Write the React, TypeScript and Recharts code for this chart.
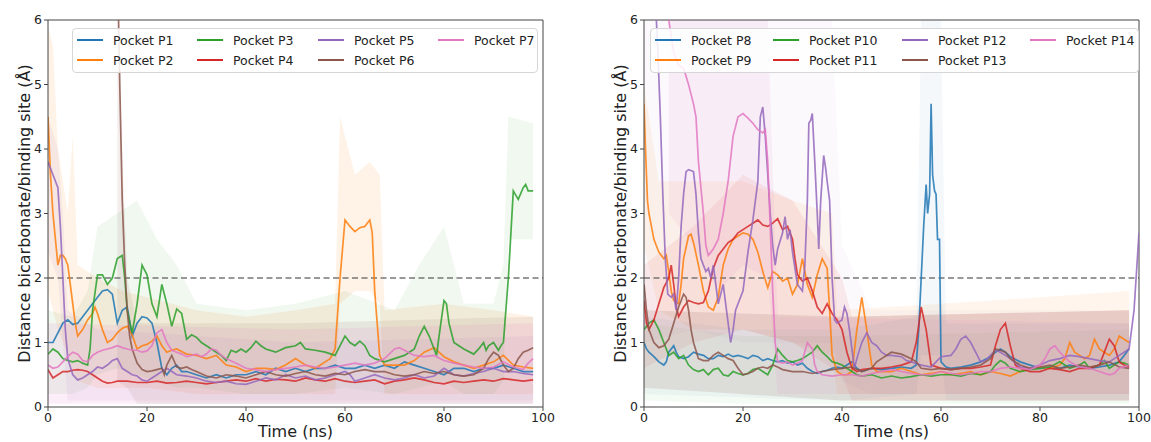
import React from "react";
import { ComposedChart, Line, Area, XAxis, YAxis, ReferenceLine, Legend } from "recharts";

// smoothed traces, [time ns, distance Å]
const P1 = [[0,1.0],[1,1.0],[2,1.15],[3,1.3],[4,1.35],[5,1.28],[6,1.3],[7,1.4],[8,1.5],[9,1.6],[10,1.7],[11,1.8],[12,1.82],[13,1.75],[14,1.3],[15,1.5],[16,1.55],[17,1.1],[18,1.3],[19,1.4],[20,1.38],[21,1.3],[22,1.0],[23,0.6],[24,0.5],[25,0.6],[26,0.65],[27,0.55],[28,0.55],[30,0.5],[32,0.45],[34,0.5],[36,0.45],[38,0.5],[40,0.5],[42,0.55],[44,0.5],[46,0.6],[48,0.55],[50,0.6],[52,0.55],[54,0.6],[56,0.6],[58,0.65],[60,0.6],[62,0.6],[64,0.65],[66,0.6],[68,0.65],[70,0.6],[72,0.7],[74,0.65],[76,0.6],[78,0.55],[80,0.5],[82,0.6],[84,0.6],[86,0.55],[88,0.6],[90,0.6],[92,0.65],[94,0.6],[96,0.55],[98,0.55]];
const P2 = [[0,4.5],[0.5,3.6],[1,3.0],[1.5,2.6],[2,2.2],[2.5,2.35],[3,2.35],[3.5,2.3],[4,2.2],[4.5,1.9],[5,1.6],[5.5,1.3],[6,1.1],[7,1.2],[8,1.35],[9,1.45],[9.5,1.55],[10,1.45],[11,1.2],[12,1.0],[13,1.05],[14,1.15],[15,1.22],[16,1.25],[17,1.12],[18,0.9],[19,0.95],[20,0.97],[21,1.02],[22,1.1],[23,0.95],[24,0.85],[25,0.88],[26,0.9],[28,0.82],[30,0.8],[32,0.75],[34,0.8],[36,0.65],[38,0.62],[40,0.55],[42,0.6],[44,0.6],[46,0.58],[48,0.65],[50,0.75],[52,0.65],[54,0.6],[56,0.7],[57,0.75],[58,0.9],[59,2.0],[60,2.9],[61,2.8],[62,2.72],[63,2.78],[64,2.8],[65,2.9],[65.5,2.7],[66,1.8],[67,0.8],[68,0.65],[70,0.65],[72,0.65],[74,0.72],[76,0.85],[78,0.92],[80,0.78],[82,0.7],[84,0.65],[86,0.6],[88,0.65],[90,0.7],[92,0.8],[94,0.65],[96,0.62],[98,0.6]];
const P3 = [[0,0.82],[1,0.9],[2,0.85],[3,0.75],[4,0.72],[5,0.7],[6,0.72],[7,0.68],[8,0.65],[8.5,0.9],[9,1.5],[10,2.05],[11,2.05],[12,1.9],[13,2.0],[14,2.3],[15,2.35],[15.5,2.0],[16,1.5],[17,1.15],[18,1.6],[19,2.2],[20,2.05],[21,1.6],[22,1.4],[23,1.9],[24,1.6],[25,1.25],[26,1.52],[27,1.45],[28,1.05],[29,1.12],[30,1.08],[31,1.0],[32,0.95],[33,0.9],[34,0.85],[35,0.8],[36,0.72],[37,0.88],[38,0.85],[39,0.9],[40,0.85],[41,0.92],[42,1.02],[43,0.95],[44,0.9],[46,0.85],[48,0.92],[50,0.95],[51,1.0],[52,0.9],[54,0.88],[56,0.85],[58,0.8],[59,0.95],[60,1.1],[61,1.0],[62,0.95],[63,1.02],[64,0.95],[65,0.8],[66,0.75],[68,0.7],[70,0.75],[72,0.8],[73,0.85],[74,0.9],[75,1.1],[76,1.25],[77,1.1],[78,0.9],[78.5,0.8],[79,1.1],[80,1.65],[80.5,1.6],[81,1.3],[82,1.0],[83,0.95],[84,0.9],[86,0.82],[87,0.9],[88,1.0],[88.5,0.88],[89,0.95],[90,1.0],[91,0.88],[91.5,0.95],[92,1.0],[93,2.0],[94,3.35],[95,3.22],[96,3.4],[96.5,3.45],[97,3.35],[98,3.35]];
const P4 = [[0,0.58],[1,0.45],[2,0.5],[3,0.55],[4,0.55],[5,0.57],[6,0.58],[7,0.57],[8,0.55],[9,0.5],[10,0.45],[11,0.4],[12,0.37],[13,0.38],[14,0.4],[16,0.4],[18,0.38],[20,0.38],[22,0.4],[24,0.37],[26,0.38],[28,0.4],[30,0.38],[32,0.36],[34,0.38],[36,0.4],[38,0.42],[40,0.4],[42,0.44],[44,0.4],[46,0.43],[48,0.42],[50,0.4],[52,0.45],[54,0.42],[56,0.4],[58,0.44],[60,0.4],[62,0.38],[64,0.4],[66,0.42],[68,0.36],[70,0.4],[72,0.42],[74,0.45],[76,0.42],[78,0.38],[80,0.36],[82,0.4],[84,0.38],[86,0.4],[88,0.42],[90,0.4],[92,0.44],[94,0.42],[96,0.4],[98,0.42]];
const P5 = [[0,3.8],[1,3.6],[2,3.4],[2.5,2.8],[3,2.0],[3.5,1.2],[4,0.75],[5,0.5],[6,0.42],[7,0.45],[8,0.5],[9,0.55],[10,0.62],[11,0.6],[12,0.65],[13,0.72],[14,0.75],[15,0.6],[16,0.55],[17,0.5],[18,0.48],[19,0.42],[20,0.4],[21,0.45],[22,0.5],[23,0.55],[24,0.6],[25,0.55],[26,0.5],[28,0.48],[30,0.45],[32,0.4],[34,0.38],[36,0.4],[38,0.36],[40,0.35],[42,0.4],[44,0.45],[46,0.42],[48,0.5],[50,0.45],[52,0.48],[54,0.42],[56,0.45],[58,0.5],[60,0.55],[61,0.5],[62,0.4],[64,0.45],[66,0.5],[68,0.45],[70,0.42],[72,0.45],[74,0.5],[76,0.45],[78,0.48],[80,0.6],[82,0.5],[84,0.48],[86,0.52],[88,0.55],[90,0.6],[92,0.55],[94,0.55],[96,0.52],[98,0.5]];
const P6 = [[14,7],[14.5,5],[15,3.2],[15.5,2.2],[16,1.5],[16.5,1.1],[17,0.9],[18,0.68],[19,0.58],[20,0.55],[21,0.56],[22,0.58],[23,0.6],[23.5,0.5],[24,0.65],[25,0.8],[26,0.62],[27,0.6],[28,0.62],[29,0.58],[30,0.55],[32,0.48],[34,0.45],[36,0.5],[38,0.48],[40,0.45],[42,0.5],[44,0.55],[46,0.5],[48,0.48],[50,0.52],[52,0.55],[54,0.5],[56,0.48],[58,0.52],[60,0.5],[62,0.55],[64,0.58],[66,0.55],[68,0.55],[70,0.5],[72,0.48],[74,0.5],[76,0.55],[78,0.52],[80,0.55],[82,0.5],[84,0.48],[86,0.5],[88,0.6],[89,0.75],[90,0.85],[91,0.8],[92,0.65],[93,0.55],[94,0.6],[95,0.75],[96,0.85],[97,0.88],[98,0.92]];
const P7 = [[0,0.65],[1,0.6],[2,0.62],[3,0.7],[4,0.78],[5,0.85],[6,0.82],[7,0.72],[8,0.7],[9,0.8],[10,0.85],[11,0.88],[12,0.9],[13,0.92],[14,0.95],[15,0.92],[16,0.9],[17,0.88],[18,0.88],[19,0.85],[20,0.87],[21,0.95],[22,1.15],[23,1.2],[24,1.0],[25,0.88],[26,0.85],[27,0.82],[28,0.78],[29,0.8],[30,0.82],[31,0.78],[32,0.82],[33,0.9],[34,0.88],[35,0.8],[36,0.75],[38,0.68],[40,0.6],[42,0.58],[44,0.55],[46,0.58],[48,0.6],[50,0.62],[52,0.65],[54,0.62],[56,0.6],[58,0.62],[60,0.65],[62,0.68],[64,0.65],[66,0.68],[68,0.75],[70,0.9],[71,0.92],[72,0.88],[74,0.8],[76,0.78],[78,0.8],[80,0.72],[82,0.68],[84,0.65],[86,0.62],[88,0.6],[90,0.62],[92,0.7],[94,0.62],[96,0.58],[97,0.68],[98,0.75]];

const P8 = [[0,1.0],[0.5,0.9],[1,0.85],[2,0.78],[3,0.7],[4,0.65],[4.5,0.7],[5,0.85],[6,0.95],[6.5,0.85],[7,0.78],[8,0.75],[9,0.78],[10,0.85],[11,0.82],[12,0.8],[13,0.75],[14,0.75],[15,0.8],[16,0.78],[17,0.82],[18,0.78],[19,0.8],[20,0.78],[21,0.75],[22,0.8],[23,0.78],[24,0.72],[25,0.75],[26,0.72],[27,0.7],[28,0.72],[29,0.68],[30,0.7],[31,0.65],[32,0.68],[33,0.6],[34,0.55],[35,0.52],[36,0.55],[37,0.57],[38,0.6],[39,0.62],[40,0.6],[41,0.65],[42,0.7],[43,0.6],[44,0.55],[46,0.6],[48,0.58],[50,0.6],[52,0.62],[54,0.6],[55,0.65],[55.5,1.2],[56,2.0],[56.5,2.8],[57,3.45],[57.3,3.0],[57.7,3.3],[58,4.7],[58.3,3.6],[58.7,3.35],[59,3.3],[59.3,2.6],[59.7,2.6],[60,0.7],[61,0.62],[62,0.6],[64,0.62],[66,0.65],[68,0.7],[70,0.78],[71,0.85],[72,0.9],[73,0.85],[74,0.78],[76,0.7],[78,0.65],[80,0.6],[82,0.62],[84,0.6],[86,0.65],[88,0.62],[90,0.6],[92,0.62],[94,0.65],[96,0.7],[97,0.8],[98,0.9]];
const P9 = [[0,4.7],[0.3,4.0],[0.7,3.2],[1,3.0],[1.5,2.8],[2,2.6],[3,2.4],[4,2.3],[4.5,2.35],[5,2.1],[5.5,1.8],[6,1.65],[7,1.6],[7.5,1.9],[8,2.3],[9,2.65],[9.5,2.68],[10,2.55],[11,2.2],[12,1.8],[13,1.55],[14,1.5],[15,1.7],[16,2.2],[17,2.45],[18,2.6],[19,2.65],[20,2.7],[21,2.68],[22,2.6],[23,2.4],[24,2.1],[25,1.85],[26,2.1],[27,2.05],[28,1.95],[29,2.0],[30,1.75],[31,1.9],[32,2.3],[33,1.9],[34,1.7],[35,2.05],[36,2.3],[37,2.15],[37.5,1.5],[38,0.8],[39,0.55],[40,0.5],[41,0.5],[42,0.55],[43,1.2],[44,1.7],[45,1.2],[46,0.65],[47,0.55],[48,0.55],[50,0.55],[52,0.6],[54,0.55],[56,0.5],[58,0.52],[60,0.55],[62,0.5],[64,0.52],[66,0.55],[68,0.5],[70,0.55],[72,0.52],[74,0.48],[76,0.55],[78,0.6],[80,0.62],[82,0.6],[84,0.65],[85,0.75],[86,1.0],[87,0.85],[88,0.8],[89,0.75],[90,0.8],[91,1.05],[92,0.9],[93,0.85],[94,0.8],[95,0.9],[96,1.1],[97,1.05],[98,1.0]];
const P10 = [[0,1.2],[1,1.3],[2,1.35],[3,1.2],[4,1.0],[5,0.8],[6,0.85],[7,0.75],[8,0.8],[9,0.65],[10,0.58],[11,0.55],[12,0.58],[13,0.5],[14,0.58],[15,0.6],[16,0.5],[17,0.48],[18,0.55],[19,0.52],[20,0.5],[21,0.52],[22,0.58],[23,0.6],[24,0.55],[25,0.5],[26,0.65],[27,0.9],[28,0.8],[29,0.72],[30,0.7],[31,0.72],[32,0.75],[33,0.8],[34,0.85],[35,0.95],[36,0.85],[37,0.78],[38,0.7],[39,0.68],[40,0.65],[41,0.6],[42,0.55],[43,0.5],[44,0.48],[46,0.5],[48,0.45],[50,0.48],[52,0.45],[54,0.47],[56,0.5],[58,0.48],[60,0.5],[62,0.5],[64,0.48],[66,0.52],[68,0.5],[70,0.55],[71,0.65],[72,0.72],[73,0.68],[74,0.6],[76,0.55],[78,0.58],[80,0.6],[82,0.62],[84,0.7],[85,0.65],[86,0.6],[88,0.65],[89,0.7],[90,0.6],[92,0.65],[93,0.72],[94,0.6],[96,0.7],[97,0.68],[98,0.65]];
const P11 = [[0,1.65],[0.5,1.3],[1,1.2],[2,1.35],[3,1.6],[4,1.85],[5,2.0],[5.5,2.2],[6,1.9],[6.5,1.55],[7,1.4],[8,1.55],[9,1.65],[10,1.62],[11,1.6],[12,1.62],[13,1.8],[14,2.15],[15,2.35],[16,2.45],[17,2.55],[18,2.6],[19,2.7],[20,2.75],[21,2.8],[22,2.85],[23,2.9],[24,2.82],[25,2.8],[26,2.85],[27,2.92],[28,2.75],[29,2.8],[30,2.6],[30.5,2.3],[31,2.05],[32,1.95],[33,2.0],[34,1.8],[35,1.55],[36,1.45],[37,1.6],[38,1.45],[39,1.35],[40,1.2],[41,0.85],[42,0.6],[43,0.55],[44,0.58],[46,0.6],[48,0.6],[50,0.62],[52,0.65],[54,0.7],[55,1.0],[56,1.55],[57,1.2],[58,0.65],[60,0.6],[62,0.58],[64,0.6],[66,0.6],[68,0.62],[70,0.65],[71,0.95],[72,1.2],[73,1.3],[74,0.95],[75,0.65],[76,0.6],[78,0.55],[80,0.55],[82,0.6],[84,0.58],[86,0.55],[88,0.6],[90,0.6],[92,0.65],[93,0.85],[94,1.05],[95,0.95],[96,0.7],[97,0.65],[98,0.62]];
const P12 = [[2.2,6.5],[2.8,5.5],[3.3,4.5],[3.8,3.3],[4.3,2.3],[4.8,1.75],[5.5,1.7],[6,1.75],[6.5,1.5],[7,2.0],[7.5,2.8],[8,3.3],[8.5,3.65],[9,3.68],[10,3.65],[10.5,3.3],[11,2.7],[11.5,2.3],[12,2.2],[12.5,2.1],[13,2.15],[13.5,2.0],[14,2.2],[14.5,1.9],[15,1.6],[15.5,1.75],[16,1.9],[16.5,1.6],[17,1.3],[17.5,1.0],[18,1.2],[18.5,1.5],[19,1.6],[20,1.8],[21,2.4],[22,2.9],[23,3.5],[23.5,4.5],[24,4.65],[24.5,4.2],[25,3.6],[25.5,3.0],[26,2.5],[26.5,2.2],[27,2.45],[28,2.7],[28.5,2.95],[29,2.6],[29.5,2.75],[30,2.4],[31,1.9],[32,1.8],[32.5,2.2],[33,3.2],[33.3,4.4],[33.7,4.45],[34,4.55],[34.5,3.8],[35,3.0],[35.3,2.45],[35.7,3.2],[36.3,3.9],[36.7,3.7],[37,3.5],[37.5,3.2],[38,2.0],[38.5,1.35],[39,1.3],[40,1.35],[40.5,1.55],[41,1.45],[41.5,1.2],[42,0.9],[42.5,0.6],[43,0.75],[44,1.0],[45,1.15],[46,1.0],[47,0.95],[48,0.85],[49,0.8],[50,0.8],[52,0.78],[53,0.72],[54,0.7],[56,0.65],[58,0.62],[59,0.7],[60,0.78],[62,0.8],[63,0.9],[64,1.05],[65,1.1],[66,1.0],[67,0.85],[68,0.7],[69,0.72],[70,0.8],[71,0.88],[72,0.85],[73,0.8],[74,0.75],[76,0.62],[78,0.6],[80,0.65],[82,0.72],[84,0.75],[86,0.8],[88,0.78],[90,0.75],[92,0.72],[94,0.7],[96,0.8],[97,0.85],[98,0.9],[99,1.5],[100,2.7]];
const P13 = [[0,1.9],[0.5,1.5],[1,1.2],[2,1.0],[3,0.92],[4,0.95],[5,1.05],[6,1.3],[7,1.55],[8,1.75],[8.5,1.7],[9,1.5],[9.5,1.2],[10,1.0],[11,0.75],[12,0.72],[13,0.72],[14,0.8],[15,0.85],[16,0.8],[17,0.75],[18,0.72],[19,0.6],[20,0.5],[21,0.52],[22,0.55],[23,0.6],[24,0.62],[25,0.6],[26,0.65],[27,0.62],[28,0.58],[30,0.55],[32,0.55],[34,0.52],[36,0.55],[38,0.58],[40,0.6],[42,0.62],[44,0.55],[46,0.6],[47,0.7],[48,0.75],[50,0.85],[52,0.82],[54,0.75],[55,0.7],[56,0.6],[58,0.58],[60,0.6],[62,0.58],[64,0.6],[66,0.62],[68,0.65],[70,0.75],[71,0.9],[72,0.88],[73,0.85],[74,0.75],[76,0.65],[78,0.6],[80,0.62],[82,0.65],[84,0.6],[86,0.62],[88,0.65],[90,0.62],[92,0.65],[94,0.7],[96,0.62],[98,0.6]];
const P14 = [[4.5,6.5],[5,6.0],[6,5.5],[7,5.3],[8,5.25],[9,5.0],[10,4.7],[10.5,4.5],[11,3.8],[12,3.0],[12.5,2.5],[13,2.35],[14,2.45],[15,2.6],[16,3.0],[17,3.5],[18,4.2],[19,4.5],[20,4.55],[21,4.48],[22,4.4],[23,4.3],[24,4.25],[24.5,4.3],[25,3.8],[25.5,2.8],[26,1.8],[26.5,1.0],[27,0.7],[28,0.68],[29,0.7],[30,0.65],[31,0.68],[32,0.72],[33,1.0],[34,0.9],[34.5,0.65],[35,0.55],[36,0.5],[38,0.48],[40,0.5],[42,0.5],[44,0.48],[46,0.52],[48,0.55],[50,0.58],[52,0.55],[54,0.52],[56,0.5],[58,0.5],[60,0.55],[62,0.52],[64,0.5],[66,0.52],[68,0.55],[70,0.55],[72,0.6],[74,0.62],[76,0.6],[78,0.58],[80,0.65],[81,0.75],[82,0.9],[83,0.95],[84,0.85],[86,0.7],[88,0.62],[90,0.6],[92,0.55],[94,0.5],[95,0.52],[96,0.6],[98,0.65]];

// faint raw-data envelopes, [time, low, high]
const rawP2 = [[0,1.8,5.9],[1,1.5,5.6],[2,1.2,4.0],[3,1.0,3.5],[4,0.8,3.0],[5,0.5,4.2],[6,0.4,2.2],[10,0.3,2.0],[15,0.3,1.8],[20,0.3,1.7],[30,0.2,1.5],[40,0.2,1.4],[50,0.2,1.5],[58,0.2,1.6],[59,1.6,4.5],[62,1.8,3.6],[65,1.8,3.8],[67,1.6,3.6],[68,0.2,1.5],[80,0.2,1.6],[90,0.2,1.5],[98,0.2,1.4]];
const rawP3 = [[0,0.2,1.5],[5,0.2,1.4],[8,0.3,1.8],[10,0.5,2.8],[14,0.6,3.0],[18,0.5,3.2],[22,0.4,2.6],[26,0.3,2.2],[30,0.3,1.6],[40,0.2,1.5],[50,0.2,1.6],[60,0.3,1.8],[70,0.2,1.5],[75,0.3,2.2],[80,0.4,2.8],[84,0.2,1.6],[90,0.2,1.6],[92,0.4,2.2],[93,2.6,4.5],[98,2.6,4.4]];
const rawP5 = [[0,2.4,4.5],[2,2.0,4.0],[3,1.0,3.0],[4,0.1,1.5],[10,0.1,1.2],[50,0.1,1.0],[98,0.1,1.1]];
const rawP6 = [[14,0.4,6],[16,0.3,2.0],[18,0.05,1.3],[50,0.05,1.3],[98,0.05,1.4]];
const rawP7 = [[0,0.05,1.3],[50,0.05,1.2],[98,0.05,1.3]];
const rawP8 = [[0,0.2,1.4],[20,0.15,1.2],[40,0.1,1.2],[55,0.2,1.4],[56,0.8,6],[60,0.8,6],[61,0.1,1.3],[98,0.1,1.3]];
const rawP9 = [[0,2.5,5.0],[3,1.5,3.5],[10,1.2,3.5],[20,1.2,3.5],[30,1.0,3.2],[38,0.8,3.0],[39,0.2,1.5],[60,0.2,1.6],[80,0.2,1.7],[98,0.2,1.8]];
const rawP10 = [[0,0.1,1.3],[20,0.05,1.1],[40,0.05,1.1],[98,0.05,1.2]];
const rawP11 = [[0,0.6,2.2],[10,1.0,2.8],[20,1.2,3.6],[30,1.0,3.2],[40,0.5,2.0],[42,0.1,1.4],[98,0.1,1.5]];
const rawP12 = [[0,1.0,6],[10,1.2,6],[20,1.0,6],[38,1.0,6],[40,0.4,2.5],[46,0.2,1.5],[98,0.2,1.5]];
const rawP13 = [[0,0.3,1.5],[40,0.1,1.4],[98,0.1,1.5]];
const rawP14 = [[5,3.0,6],[10,2.5,6],[15,1.8,6],[20,2.2,6],[25,2.0,6],[27,0.2,1.4],[98,0.2,1.3]];

const xTicks = [0, 20, 40, 60, 80, 100];
const yTicks = [0, 1, 2, 3, 4, 5, 6];
const threshold = 2;

const C = ["#1f77b4", "#ff7f0e", "#2ca02c", "#d62728", "#9467bd", "#8c564b", "#e377c2"];
const FONT = "'DejaVu Sans', sans-serif";

type S = { name: string; pts: number[][]; raw?: number[][]; rawOpacity?: number };

const leftSeries: S[] = [
  { name: "Pocket P1", pts: P1 },
  { name: "Pocket P2", pts: P2, raw: rawP2, rawOpacity: 0.1 },
  { name: "Pocket P3", pts: P3, raw: rawP3, rawOpacity: 0.07 },
  { name: "Pocket P4", pts: P4 },
  { name: "Pocket P5", pts: P5, raw: rawP5, rawOpacity: 0.08 },
  { name: "Pocket P6", pts: P6, raw: rawP6, rawOpacity: 0.1 },
  { name: "Pocket P7", pts: P7, raw: rawP7, rawOpacity: 0.12 },
];
const rightSeries: S[] = [
  { name: "Pocket P8", pts: P8, raw: rawP8, rawOpacity: 0.05 },
  { name: "Pocket P9", pts: P9, raw: rawP9, rawOpacity: 0.08 },
  { name: "Pocket P10", pts: P10, raw: rawP10, rawOpacity: 0.05 },
  { name: "Pocket P11", pts: P11, raw: rawP11, rawOpacity: 0.08 },
  { name: "Pocket P12", pts: P12, raw: rawP12, rawOpacity: 0.04 },
  { name: "Pocket P13", pts: P13, raw: rawP13, rawOpacity: 0.14 },
  { name: "Pocket P14", pts: P14, raw: rawP14, rawOpacity: 0.09 },
];

function LegendBox({ series, cols }: { series: S[]; cols: number[] }) {
  const groups = [[0, 1], [2, 3], [4, 5], [6]];
  return (
    <div
      style={{
        boxSizing: "border-box",
        width: "100%",
        height: 45,
        background: "rgba(255,255,255,0.85)",
        border: "1px solid #d6d6d6",
        borderRadius: 4,
        display: "flex",
        paddingTop: 1,
        fontFamily: FONT,
        fontSize: 12.5,
        color: "#222",
        whiteSpace: "nowrap",
      }}
    >
      {groups.map((g, ci) => (
        <div key={ci} style={{ width: cols[ci], flex: "none" }}>
          {g.map((i) => (
            <div key={i} style={{ height: 20, display: "flex", alignItems: "center" }}>
              <span style={{ width: 26, height: 2, background: C[i], marginLeft: 4, marginRight: 10, flex: "none" }} />
              <span>{series[i].name}</span>
            </div>
          ))}
        </div>
      ))}
    </div>
  );
}

function Panel({ series, left, width, legendLeft, legendWidth, cols }: { series: S[]; left: number; width: number; legendLeft: number; legendWidth: number; cols: number[] }) {
  const axisColor = "#444";
  const tick = { fill: "#222", fontSize: 12.5, fontFamily: FONT };
  return (
    <div style={{ position: "absolute", left, top: 0 }}>
      <ComposedChart width={width} height={442} margin={{ top: 20, right: width - 48 - 495, bottom: 0, left: 0 }}>
        <XAxis
          type="number"
          dataKey="t"
          domain={[0, 100]}
          ticks={xTicks}
          allowDataOverflow
          height={35}
          tickSize={4}
          tickMargin={2}
          tick={tick}
          stroke={axisColor}
          label={{ value: "Time (ns)", position: "insideBottom", offset: 5, fill: "#222", fontSize: 16, fontFamily: FONT }}
        />
        <YAxis
          type="number"
          domain={[0, 6]}
          ticks={yTicks}
          allowDataOverflow
          width={48}
          tickSize={4}
          tickMargin={2}
          tick={tick}
          stroke={axisColor}
          label={{ value: "Distance bicarbonate/binding site (Å)", angle: -90, position: "center", fill: "#222", fontSize: 16, fontFamily: FONT }}
        />
        {series.map((s, i) =>
          s.raw ? (
            <Area
              key={"raw" + i}
              data={s.raw.map(([t, lo, hi]) => ({ t, r: [lo, hi] }))}
              dataKey="r"
              type="linear"
              stroke="none"
              fill={C[i]}
              fillOpacity={s.rawOpacity}
              isAnimationActive={false}
              legendType="none"
            />
          ) : null
        )}
        <ReferenceLine y={threshold} stroke="#777" strokeDasharray="6 3.5" strokeWidth={1.3} />
        <ReferenceLine y={6} stroke={axisColor} />
        <ReferenceLine x={100} stroke={axisColor} />
        {series.map((s, i) => (
          <Line
            key={s.name}
            name={s.name}
            data={s.pts.map(([t, v]) => ({ t, v }))}
            dataKey="v"
            type="linear"
            stroke={C[i]}
            strokeOpacity={0.85}
            strokeWidth={1.7}
            dot={false}
            isAnimationActive={false}
          />
        ))}
        <Legend
          verticalAlign="middle"
          align="center"
          layout="horizontal"
          wrapperStyle={{ left: legendLeft, top: 28, width: legendWidth, height: 45 }}
          content={() => <LegendBox series={series} cols={cols} />}
        />
      </ComposedChart>
    </div>
  );
}

export default function App() {
  return (
    <div style={{ position: "absolute", left: 0, top: 0, width: 1151, height: 442, background: "#fff", overflow: "hidden" }}>
      <Panel series={leftSeries} left={0} width={560} legendLeft={72} legendWidth={466} cols={[120, 121, 120, 100]} />
      <Panel series={rightSeries} left={596} width={555} legendLeft={54} legendWidth={489} cols={[118, 129, 128, 110]} />
    </div>
  );
}
